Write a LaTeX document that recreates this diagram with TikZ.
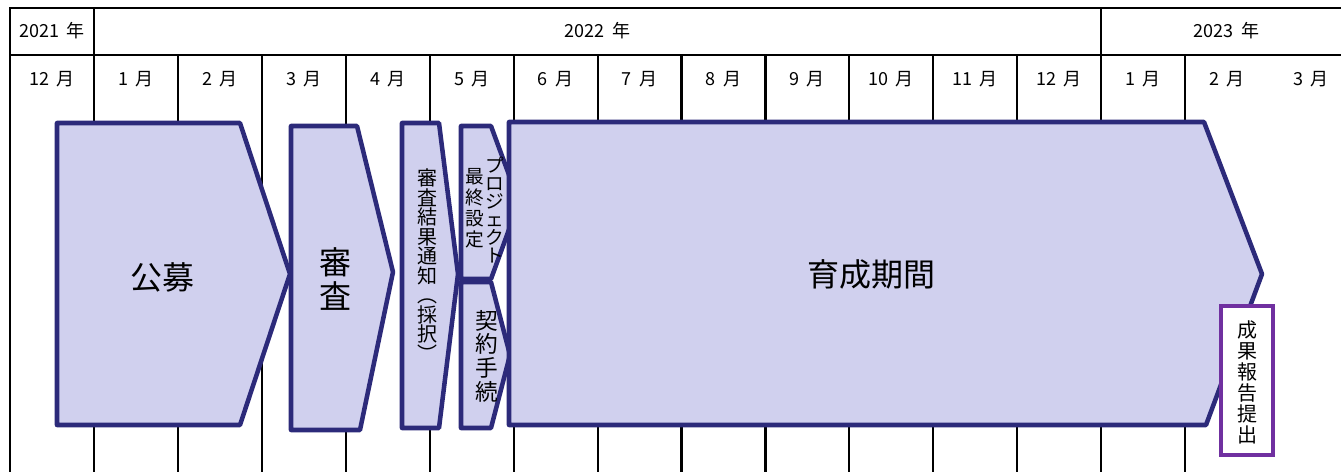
\documentclass[tikz,border=0pt]{standalone}
\usepackage{fontspec}
\setmainfont{Noto Sans CJK JP}
\definecolor{phasefill}{RGB}{208,208,238}
\definecolor{phaseline}{RGB}{44,42,122}
\definecolor{reportline}{RGB}{112,48,160}
\begin{document}
\begin{tikzpicture}[x=0.75pt,y=-0.75pt,
	gridline/.style={line width=1.6pt,black},
	phase/.style={draw=phaseline,fill=phasefill,line width=3.4pt,line join=round},
	cell/.style={inner sep=0pt,font=\fontsize{13.5}{15}\selectfont},
	vtext/.style={inner sep=0pt,align=center}]
	\useasboundingbox (0,0) rectangle (1341,472);
	% table
	\draw[gridline] (1341,8) -- (10,8) -- (10,472);
	\draw[gridline] (10,55) -- (1341,55);
	\draw[gridline] (94,8) -- (94,55);
	\draw[gridline] (1101,8) -- (1101,55);
	\foreach \i in {1,...,14}
		\draw[gridline] ({94+83.93*(\i-1)},55) -- ({94+83.93*(\i-1)},472);
	\node[cell] (y2021) at (52,31) {2021\hspace{0.4em}年};
	\node[cell] (y2022) at (597.5,31) {2022\hspace{0.4em}年};
	\node[cell] (y2023) at (1226.5,31) {2023\hspace{0.4em}年};
	\foreach \m [count=\i from 0] in {12,1,2,3,4,5,6,7,8,9,10,11,12,1,2,3}
		\node[cell] (m\i) at ({52+83.93*\i},79) {\m\hspace{0.4em}月};
	% phases
	\draw[phase] (57,123) -- (240,123) -- (290,274) -- (240,425) -- (57,425) -- cycle;
	\draw[phase] (291,126) -- (357,126) -- (393,272) -- (360,430) -- (291,430) -- cycle;
	\draw[phase] (402,123) -- (439,123) -- (458,274) -- (439,428) -- (402,428) -- cycle;
	\draw[phase] (461,126) -- (491,126) -- (519,202) -- (491,279) -- (461,279) -- cycle;
	\draw[phase] (461,282) -- (491,282) -- (510,355) -- (491,428) -- (461,428) -- cycle;
	\draw[phase] (509,122) -- (1204,122) -- (1262,274) -- (1206,425) -- (509,425) -- cycle;
	\node[vtext,font=\fontsize{24}{25.5}\selectfont] (kobo) at (162,277) {公募};
	\node[vtext,font=\fontsize{24}{25.5}\selectfont] (shinsa) at (335,279) {審\\査};
	\node[vtext,font=\fontsize{15}{14.6}\selectfont] (tsuchi) at (427,265)
		{審\\査\\結\\果\\通\\知\\︵\\採\\択\\︶};
	\node[vtext,font=\fontsize{14}{13.5}\selectfont] (project) at (495,210)
		{プ\\ロ\\ジ\\ェ\\ク\\ト};
	\node[vtext,font=\fontsize{14}{15.75}\selectfont] (settei) at (475,208)
		{最\\終\\設\\定};
	\node[vtext,font=\fontsize{17}{17.8}\selectfont] (keiyaku) at (487,356)
		{契\\約\\手\\続};
	\node[vtext,font=\fontsize{24}{25.5}\selectfont] (ikusei) at (871,274) {育成期間};
	% report
	\draw[reportline,line width=3pt,fill=white] (1221,306) rectangle (1273,455);
	\node[vtext,font=\fontsize{15}{15.75}\selectfont] (report) at (1247,382)
		{成\\果\\報\\告\\提\\出};
\end{tikzpicture}
\end{document}
